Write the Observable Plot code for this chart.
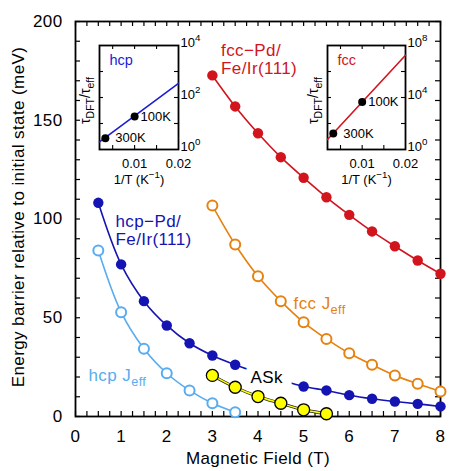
<!DOCTYPE html>
<html><head><meta charset="utf-8">
<script src="https://cdn.jsdelivr.net/npm/d3@7"></script>
<script src="https://cdn.jsdelivr.net/npm/@observablehq/plot@0.6"></script>
<style>
body{margin:0;background:#fff;}
#wrap{position:relative;width:471px;height:471px;background:#fff;}
#wrap > div{position:absolute;}
</style></head><body><div id="wrap"></div>
<script>
// ---------- main chart data ----------
const hcpField = [0.5,1,1.5,2,2.5,3,3.5,4,4.5,5,5.5,6,6.5,7,7.5,8];
const hcpBarrier = [108.2,77.0,58.4,46.1,37.1,30.9,26.2,22.2,18.5,15.2,13.2,10.8,9.0,7.6,6.4,5.1];
const hcpJeffField = [0.5,1,1.5,2,2.5,3,3.5];
const hcpJeff = [84.0,52.8,34.3,21.9,13.2,6.7,2.2];
const askField = [3,3.5,4,4.5,5,5.5];
const askBarrier = [20.8,14.8,10.1,6.7,3.4,1.4];
const fccField = [3,3.5,4,4.5,5,5.5,6,6.5,7,7.5,8];
const fccBarrier = [172.7,157.0,143.4,131.3,120.9,111.0,102.1,93.7,86.2,79.0,72.3];
const fccJeffField = [3,3.5,4,4.5,5,5.5,6,6.5,7,7.5,8];
const fccJeff = [106.8,87.1,71.0,58.4,47.7,39.3,32.0,26.2,20.8,16.6,12.7];
const xTickLabels = [0,1,2,3,4,5,6,7,8];
const yTickLabels = [0,50,100,150,200];
const xTickMarks = d3.range(0, 8.001, 0.25);
const yTickMarks = d3.range(0, 200.001, 10);
const xTitle = "Magnetic Field (T)";
const yTitle = "Energy barrier relative to initial state (meV)";

// ---------- inset data ----------
const invT = [1/300, 1/100];
const tempLabels = ["300K", "100K"];
const hcpRatio = [2.7, 18.6];
const fccRatio = [17, 4570];
const fitInvT = [0.002, 0.02];
const hcpFitRatio = [1.95, 347];
const fccFitRatio = [5.9, 1.78e7];
const insetXTickLabels = [0.01, 0.02];
const insetXTickMarks = [0.005, 0.01, 0.015];
const hcpYTickLabels = [1, 100, 1e4];
const hcpYTickMarks = [10, 100, 1000];
const fccYTickLabels = [1, 1e4, 1e8];
const fccYTickMarks = [1e2, 1e4, 1e6];
const insetXTitle = "1/T (K^{−1})";
const insetYTitle = "τ_{DFT}/τ_{eff}";

// ---------- annotations ----------
const annotations = [
  {text: "fcc−Pd/\nFe/Ir(111)", x: 3.19, y: 180.8, key: "red"},
  {text: "hcp−Pd/\nFe/Ir(111)", x: 0.877, y: 94.4, key: "blue"},
  {text: "fcc J_{eff}", x: 4.78, y: 57.5, key: "orange"},
  {text: "hcp J_{eff}", x: 0.285, y: 21.0, key: "light"}
];
const askLabel = {text: "ASk", x: 4.19, y: 19.7};

const C = {red: "#d2151d", blue: "#1414b2", light: "#58acef", orange: "#e6820f", yellow: "#ffff00", insetBlue: "#1c1cd8"};
const FONT = "'Liberation Sans', Arial, Helvetica, sans-serif";

function richText(root) {
  d3.select(root).selectAll("text").each(function() {
    if (this.querySelector("tspan")) return;
    const s = this.textContent;
    if (!/[_^]\{/.test(s)) return;
    const parts = s.split(/([_^]\{[^}]*\})/).filter(Boolean);
    const t = d3.select(this).text(null);
    for (const p of parts) {
      if ((p[0] === "_" || p[0] === "^") && p[1] === "{") {
        t.append("tspan").style("font-size", "75%")
          .attr("baseline-shift", p[0] === "_" ? "-0.4em" : "0.6em")
          .text(p.slice(2, -1));
      } else t.append("tspan").text(p);
    }
  });
}

const W = 471, H = 471, mL = 75, mR = 31, mT = 21, mB = 55;
const iw = W - mL - mR, ih = H - mT - mB, tk = 5;

const main = Plot.plot({
  width: W, height: H, marginLeft: mL, marginRight: mR, marginTop: mT, marginBottom: mB,
  x: {domain: [0, 8]}, y: {domain: [0, 200]},
  style: {fontFamily: FONT, fontSize: "17px", background: "white", letterSpacing: "0.4px", overflow: "visible"},
  marks: [
    Plot.ruleX(xTickMarks, {x: d => d, insetTop: ih - tk, strokeWidth: 1.2}),
    Plot.ruleX(xTickMarks, {x: d => d, insetBottom: ih - tk, strokeWidth: 1.2}),
    Plot.ruleY(yTickMarks, {y: d => d, insetRight: iw - tk, strokeWidth: 1.2}),
    Plot.ruleY(yTickMarks, {y: d => d, insetLeft: iw - tk, strokeWidth: 1.2}),
    Plot.frame({stroke: "black", strokeWidth: 1.8}),
    Plot.axisX(xTickLabels, {tickSize: 0, tickPadding: 13, label: null, fontSize: 17}),
    Plot.axisY(yTickLabels, {tickSize: 0, tickPadding: 13, label: null, fontSize: 17}),
    Plot.text([xTitle], {frameAnchor: "bottom", dy: 42, lineAnchor: "middle", fontSize: 17}),
    Plot.text([yTitle], {frameAnchor: "left", rotate: -90, dx: -57, dy: -2, textAnchor: "middle", lineAnchor: "middle", fontSize: 17}),
    // hcp J_eff
    Plot.line(hcpJeff, {x: hcpJeffField, y: hcpJeff, curve: "catmull-rom", stroke: C.light, strokeWidth: 1.6}),
    Plot.dot(hcpJeff, {x: hcpJeffField, y: hcpJeff, r: 5, fill: "white", stroke: C.light, strokeWidth: 2}),
    // fcc J_eff
    Plot.line(fccJeff, {x: fccJeffField, y: fccJeff, curve: "catmull-rom", stroke: C.orange, strokeWidth: 1.6}),
    Plot.dot(fccJeff, {x: fccJeffField, y: fccJeff, r: 5, fill: "white", stroke: C.orange, strokeWidth: 2}),
    // fcc-Pd
    Plot.line(fccBarrier, {x: fccField, y: fccBarrier, curve: "catmull-rom", stroke: C.red, strokeWidth: 1.6}),
    Plot.dot(fccBarrier, {x: fccField, y: fccBarrier, r: 5.2, fill: C.red}),
    // hcp-Pd
    Plot.line(hcpBarrier, {x: hcpField, y: hcpBarrier, curve: "catmull-rom", stroke: C.blue, strokeWidth: 1.6}),
    Plot.dot(hcpBarrier, {x: hcpField, y: hcpBarrier, r: 5.2, fill: C.blue}),
    // ASk label (white halo hides the line behind it)
    Plot.text([askLabel], {x: "x", y: "y", text: "text", fontSize: 17, fill: "black", stroke: "white", strokeWidth: 18, strokeLinejoin: "round", paintOrder: "stroke", lineAnchor: "middle"}),
    // ASk series
    Plot.line(askBarrier, {x: askField, y: askBarrier, curve: "catmull-rom", stroke: "#222", strokeWidth: 2.9}),
    Plot.line(askBarrier, {x: askField, y: askBarrier, curve: "catmull-rom", stroke: C.yellow, strokeWidth: 1.5}),
    Plot.dot(askBarrier, {x: askField, y: askBarrier, r: 6, fill: C.yellow, stroke: "black", strokeWidth: 1.3}),
    // series labels
    Plot.text(annotations, {x: "x", y: "y", text: "text", fill: d => C[d.key], textAnchor: "start", lineAnchor: "middle", lineHeight: 1.07, fontSize: 17})
  ]
});

function inset({ratio, fit, color, name, yDomain, yLabels, yMarks, fw}) {
  const l = 30, r = 36, t = 12, b = 42, fh = 104, ti = 4;
  return Plot.plot({
    width: l + fw + r, height: t + fh + b, marginLeft: l, marginRight: r, marginTop: t, marginBottom: b,
    x: {domain: [0.002, 0.02]},
    y: {type: "log", domain: yDomain},
    style: {fontFamily: FONT, fontSize: "13px", background: "transparent", overflow: "visible"},
    marks: [
      Plot.ruleX(insetXTickMarks, {x: d => d, insetTop: fh - ti, strokeWidth: 1.1}),
      Plot.ruleX(insetXTickMarks, {x: d => d, insetBottom: fh - ti, strokeWidth: 1.1}),
      Plot.ruleY(yMarks, {y: d => d, insetRight: fw - ti, strokeWidth: 1.1}),
      Plot.ruleY(yMarks, {y: d => d, insetLeft: fw - ti, strokeWidth: 1.1}),
      Plot.frame({stroke: "black", strokeWidth: 1.8}),
      Plot.axisX(insetXTickLabels, {tickSize: 0, tickPadding: 9, label: null, tickFormat: d => d.toFixed(2), fontSize: 13}),
      Plot.axisY(yLabels, {anchor: "right", tickSize: 0, tickPadding: 2, dy: -3, label: null, fontSize: 13,
        tickFormat: d => `10^{${Math.round(Math.log10(d))}}`}),
      Plot.text([insetXTitle], {frameAnchor: "bottom", dy: 30, lineAnchor: "middle", fontSize: 13}),
      Plot.text([insetYTitle], {frameAnchor: "left", rotate: -90, dx: -14, dy: 3, textAnchor: "middle", lineAnchor: "middle", fontSize: 14}),
      Plot.line(fit, {x: fitInvT, y: fit, stroke: color, strokeWidth: 1.6}),
      Plot.dot(ratio, {x: invT, y: ratio, r: 4, fill: "black"}),
      Plot.text([tempLabels[0]], {x: [invT[0]], y: [ratio[0]], dx: 10, textAnchor: "start", lineAnchor: "middle", fontSize: 13}),
      Plot.text([tempLabels[1]], {x: [invT[1]], y: [ratio[1]], dx: 6, textAnchor: "start", lineAnchor: "middle", fontSize: 13}),
      Plot.text([name], {frameAnchor: "top-left", dx: 10, dy: 15, textAnchor: "start", lineAnchor: "middle", fill: color, fontSize: 14.5})
    ]
  });
}

const hcpInset = inset({ratio: hcpRatio, fit: hcpFitRatio, color: C.insetBlue, name: "hcp", yDomain: [1, 1e4], yLabels: hcpYTickLabels, yMarks: hcpYTickMarks, fw: 79});
const fccInset = inset({ratio: fccRatio, fit: fccFitRatio, color: C.red, name: "fcc", yDomain: [1, 1e8], yLabels: fccYTickLabels, yMarks: fccYTickMarks, fw: 78});

const wrap = document.getElementById("wrap");
function place(node, left, top) {
  const d = document.createElement("div");
  d.style.left = left + "px"; d.style.top = top + "px";
  d.appendChild(node); wrap.appendChild(d);
  richText(node);
}
place(main, 0, 0);
place(hcpInset, 69, 33);
place(fccInset, 297, 33);
</script>
</body></html>
